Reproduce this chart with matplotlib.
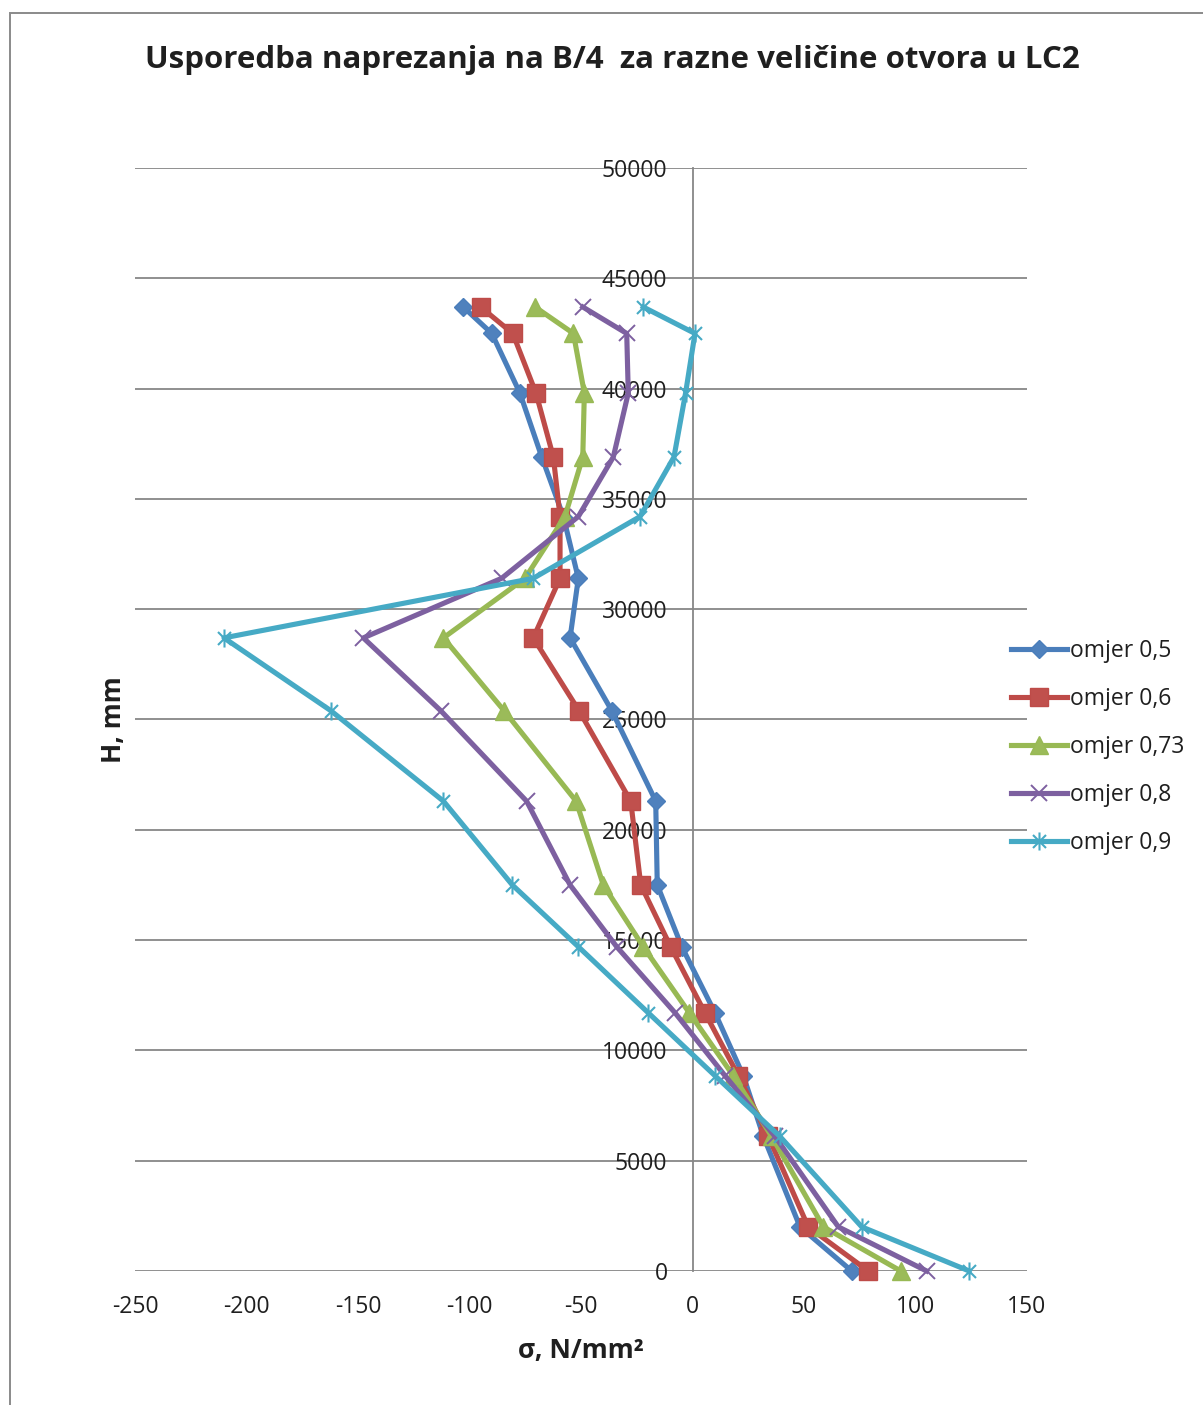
import matplotlib
matplotlib.use("Agg")
import matplotlib.pyplot as plt
from matplotlib.path import Path
from matplotlib.patches import Rectangle

# ---------------- data ----------------
heights = [0, 2000, 6100, 8850, 11700, 14700, 17500, 21300, 25400,
           28700, 31400, 34200, 36900, 39800, 42500, 43700]

omjer_05 = [71.4, 48.2, 31.8, 22.8, 10.1, -4.8, -15.8, -16.5, -36.2,
            -54.9, -51.2, -57.9, -67.6, -77.4, -90.0, -102.8]
omjer_06 = [78.8, 51.9, 34.0, 20.6, 5.6, -9.8, -23.2, -27.7, -50.9,
            -71.4, -59.4, -59.4, -62.4, -70.2, -80.6, -95.0]
omjer_073 = [93.4, 58.7, 35.5, 18.3, -1.4, -22.1, -40.0, -52.2, -84.5,
             -111.7, -75.1, -57.2, -49.2, -48.5, -53.4, -70.6]
omjer_08 = [105.0, 65.4, 37.0, 14.6, -7.8, -34.0, -54.9, -74.4, -112.9,
            -147.6, -85.6, -51.2, -35.5, -28.8, -29.5, -49.2]
omjer_09 = [124.1, 75.9, 39.2, 10.1, -19.8, -51.2, -80.8, -111.7, -162.2,
            -210.1, -71.4, -23.5, -8.3, -3.1, 1.1, -22.1]

series_labels = ["omjer 0,5", "omjer 0,6", "omjer 0,73", "omjer 0,8", "omjer 0,9"]
x_ticks = [-250, -200, -150, -100, -50, 0, 50, 100, 150]
y_ticks = [0, 5000, 10000, 15000, 20000, 25000, 30000, 35000, 40000, 45000, 50000]

title_text = "Usporedba naprezanja na B/4  za razne veličine otvora u LC2"
xlabel_text = "σ, N/mm²"
ylabel_text = "H, mm"

# ---------------- style ----------------
W, H = 1203, 1405
DPI = 100
FONT = ["Open Sans", "DejaVu Sans"]
TXT = "#1f1f1f"
GRID = "#878787"
TICK_FS = 16.5

plt.rcParams["font.family"] = FONT

# Excel-like star marker: x plus vertical bar
star_path = Path(
    [(0, -1), (0, 1), (-0.72, -0.72), (0.72, 0.72), (-0.72, 0.72), (0.72, -0.72)],
    [Path.MOVETO, Path.LINETO, Path.MOVETO, Path.LINETO, Path.MOVETO, Path.LINETO],
)

styles = [
    dict(color="#4A7EBB", marker="D", ms=9, mfc="#4F81BD", mec="#4A7EBB", mew=1),
    dict(color="#BE4B48", marker="s", ms=13, mfc="#C0504D", mec="#BE4B48", mew=1),
    dict(color="#98B954", marker="^", ms=13, mfc="#9BBB59", mec="#98B954", mew=1),
    dict(color="#7D60A0", marker="x", ms=12, mfc="none", mec="#7D60A0", mew=1.4),
    dict(color="#46AAC5", marker=star_path, ms=13, mfc="none", mec="#46AAC5", mew=1.5),
]

fig = plt.figure(figsize=(W / DPI, H / DPI), dpi=DPI)
fig.patch.set_facecolor("white")

# chart border (left and top visible)
fig.patches.append(Rectangle((9.5 / W, -0.05), 1.2, 1 - 12.5 / H + 0.05,
                             transform=fig.transFigure, fill=False,
                             edgecolor="#8a8a8a", linewidth=1.4))

left, right, top, bottom = 135, 1027, 168, 1271
ax = fig.add_axes([left / W, 1 - bottom / H, (right - left) / W, (bottom - top) / H])
ax.set_xlim(x_ticks[0], x_ticks[-1])
ax.set_ylim(y_ticks[0], y_ticks[-1])
ax.set_xticks(x_ticks)
ax.set_yticks(y_ticks)
ax.set_xticklabels([str(v) for v in x_ticks])
ax.set_yticklabels([str(v) for v in y_ticks])

for s in ["top", "right", "bottom"]:
    ax.spines[s].set_visible(False)
ax.spines["left"].set_position(("data", 0))
ax.spines["left"].set_color(GRID)
ax.spines["left"].set_linewidth(1.3)
ax.spines["left"].set_zorder(1)

ax.yaxis.grid(True, color=GRID, linewidth=1.3)
ax.xaxis.grid(False)
ax.set_axisbelow(True)

ax.tick_params(axis="y", length=0, pad=18, labelsize=TICK_FS, labelcolor=TXT)
ax.tick_params(axis="x", length=0, pad=17, labelsize=TICK_FS, labelcolor=TXT)

all_series = [omjer_05, omjer_06, omjer_073, omjer_08, omjer_09]
for i, (vals, lab, st) in enumerate(zip(all_series, series_labels, styles)):
    ax.plot(vals, heights, label=lab, linewidth=3.7, color=st["color"],
            marker=st["marker"], markersize=st["ms"], markerfacecolor=st["mfc"],
            markeredgecolor=st["mec"], markeredgewidth=st["mew"],
            clip_on=False, zorder=3 + i, solid_joinstyle="round")

leg = ax.legend(loc="center left", bbox_to_anchor=(1011 / W, 1 - 747 / H),
                bbox_transform=fig.transFigure, frameon=False, fontsize=TICK_FS,
                borderpad=0, borderaxespad=0, handlelength=2.45,
                handletextpad=0.12, labelspacing=1.04, numpoints=1)
for t in leg.get_texts():
    t.set_color(TXT)

fig.text(612.5 / W, 1 - 68 / H, title_text, ha="center", va="baseline",
         fontsize=22.5, fontweight="bold", color=TXT)
fig.text(581 / W, 1 - 1358 / H, xlabel_text, ha="center", va="baseline",
         fontsize=19, fontweight="bold", color=TXT)
fig.text(113 / W, 1 - 720 / H, ylabel_text, ha="center", va="center",
         rotation=90, fontsize=19, fontweight="bold", color=TXT)

fig.savefig("out.png", dpi=DPI, facecolor="white")
